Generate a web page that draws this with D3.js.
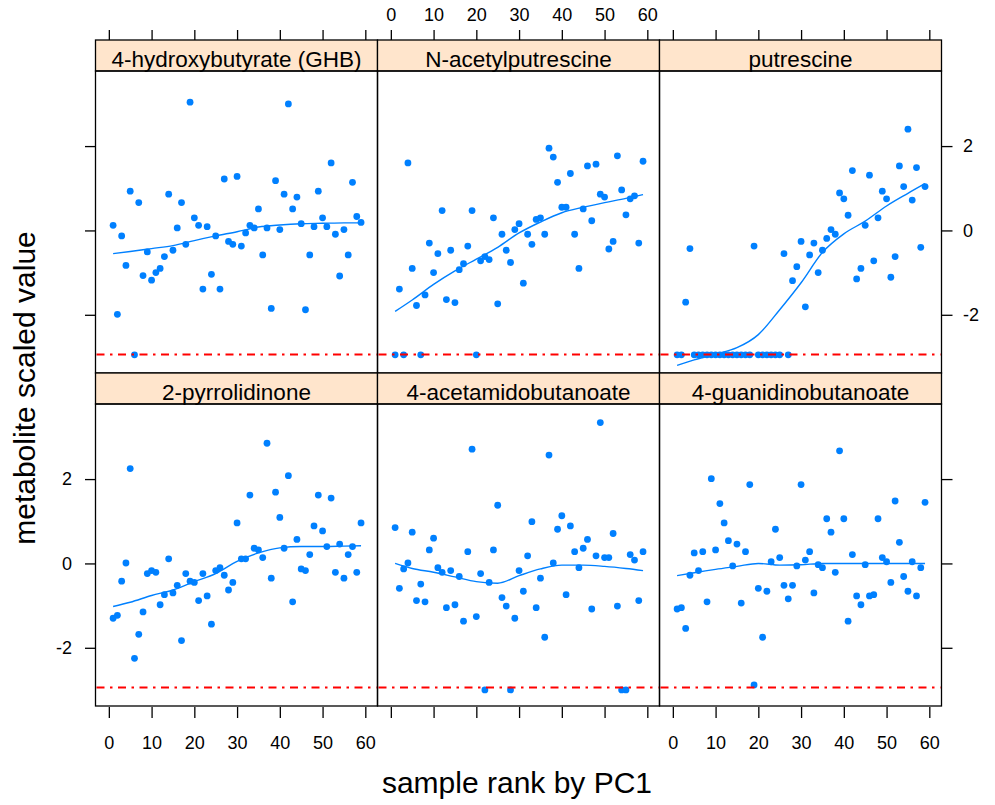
<!DOCTYPE html>
<html>
<head>
<meta charset="utf-8">
<script src="https://cdn.jsdelivr.net/npm/d3@7"></script>
<style>
  body { margin: 0; background: #fff; }
</style>
</head>
<body>
<svg id="chart"></svg>
<script>
// sample ranks (x) shared by every panel
const ranks = [1, 2, 3, 4, 5, 6, 7, 8, 9, 10, 11, 12, 13, 14, 15, 16, 17, 18, 19, 20,
  21, 22, 23, 24, 25, 26, 27, 28, 29, 30, 31, 32, 33, 34, 35, 36, 37, 38, 39, 40,
  41, 42, 43, 44, 45, 46, 47, 48, 49, 50, 51, 52, 53, 54, 55, 56, 57, 58, 59];

const panelNames = ["4-hydroxybutyrate (GHB)", "N-acetylputrescine", "putrescine",
  "2-pyrrolidinone", "4-acetamidobutanoate", "4-guanidinobutanoate"];

// scaled values, one per rank
const ghb = [0.12, -1.99, -0.13, -0.83, 0.93, -2.95, 0.66, -1.07, -0.51, -1.18,
  -1.00, -0.90, -0.62, 0.86, -0.47, 0.06, 0.66, -0.33, 3.04, 0.30,
  0.12, -1.39, 0.09, -1.04, -0.13, -1.39, 1.22, -0.26, -0.33, 1.28,
  -0.37, -0.06, 0.12, 0.06, 0.51, -0.58, 0.06, -1.85, 1.18, 0.02,
  0.86, 3.00, 0.51, 0.79, 0.16, -1.88, -0.58, 0.09, 0.93, 0.30,
  0.09, 1.60, -0.09, -1.08, 0.02, -0.58, 1.14, 0.33, 0.19];
const acetylputrescine = [-2.95, -1.39, -2.95, 1.60, -0.90, -1.78, -2.95, -1.53, -0.30, -1.00,
  -0.55, 0.47, -1.64, -0.47, -1.71, -0.93, -0.79, -0.37, 0.47, -2.95,
  -0.72, -0.62, -0.69, 0.30, -1.74, -0.09, -0.47, -0.76, 0.02, 0.16,
  -1.25, -0.09, -0.33, 0.26, 0.30, -0.09, 1.95, 1.74, 1.14, 0.55,
  0.55, 1.35, -0.09, -0.90, 0.51, 1.53, 0.23, 1.57, 0.86, 0.79,
  -0.44, -0.26, 1.77, 0.96, 0.37, 0.75, 0.82, -0.30, 1.64];
const putrescine = [-2.95, -2.95, -1.70, -0.43, -2.95, -2.95, -2.95, -2.95, -2.95, -2.95,
  -2.95, -2.95, -2.95, -2.95, -2.95, -2.95, -2.95, -2.95, -0.37, -2.95,
  -2.95, -2.95, -2.95, -2.95, -2.95, -0.55, -2.95, -1.19, -0.86, -0.26,
  -1.81, -0.58, -0.30, -1.00, -0.47, -0.19, 0.02, -0.09, 0.89, 0.75,
  0.36, 1.42, -1.15, -0.90, 0.12, 1.31, -0.72, 0.30, 0.93, 0.75,
  -1.11, -0.62, 1.53, 1.04, 2.40, 0.72, 1.49, -0.40, 1.04];
const pyrrolidinone = [-1.30, -1.23, -0.42, 0.01, 2.25, -2.25, -1.68, -1.15, -0.24, -0.17,
  -0.21, -0.98, -0.74, 0.11, -0.70, -0.52, -1.83, -0.24, -0.42, -0.45,
  -0.88, -0.24, -0.77, -1.44, -0.17, -0.10, -0.28, -0.63, -0.45, 0.96,
  0.11, 0.11, 1.62, 0.36, 0.32, 0.14, 2.85, -0.35, 1.69, 1.09,
  0.36, 2.08, -0.91, 0.57, -0.13, -0.17, 0.21, 0.89, 1.62, 0.77,
  0.40, 1.55, -0.21, 0.46, -0.35, 0.21, 0.40, -0.21, 0.96];
const acetamidobutanoate = [0.85, -0.59, -0.13, 0.01, 0.74, -0.88, -0.49, -0.91, 0.32, 0.60,
  -0.10, -0.21, -1.05, -0.17, -0.98, -0.31, -1.37, 0.28, 2.71, -1.26,
  -0.24, -3.00, -0.45, 0.32, 1.38, -0.81, -1.01, -3.00, -1.30, -0.17,
  -0.66, 0.18, 0.99, -1.05, -0.35, -1.75, 2.57, 0.01, 0.81, 1.13,
  -0.74, 0.89, 0.28, -0.10, 0.36, 0.57, -1.08, 0.18, 3.34, 0.14,
  0.14, 0.71, -1.01, -3.00, -3.00, 0.21, 0.08, -0.88, 0.28];
const guanidinobutanoate = [-1.08, -1.05, -1.54, -0.28, 0.25, -0.17, 0.28, -0.91, 2.01, 0.32,
  1.42, 0.96, 0.54, -0.06, 0.46, -0.94, 0.28, 1.87, -2.88, -0.59,
  -1.75, -0.66, 0.04, 0.81, 0.14, -0.52, -0.84, -0.52, -0.06, 1.87,
  0.08, 0.28, -0.70, -0.03, -0.10, 1.06, 0.74, -0.21, 2.67, 1.06,
  -1.37, 0.21, -0.77, -0.98, -0.03, -0.77, -0.74, 1.06, 0.14, 0.04,
  -0.45, 1.48, 0.50, -0.31, -0.66, 0.04, -0.77, -0.10, 1.45];

// loess smoother
const smoothX = [1, 5, 10, 15, 20, 25, 30, 35, 40, 45, 50, 55, 59];
const ghbSmooth = [-0.55, -0.50, -0.43, -0.36, -0.24, -0.13, -0.03, 0.08, 0.13, 0.16, 0.17, 0.18, 0.18];
const acetylSmooth = [-1.92, -1.65, -1.28, -0.96, -0.68, -0.40, -0.06, 0.20, 0.42, 0.55, 0.66, 0.76, 0.85];
const putrescineSmooth = [-3.20, -3.07, -2.93, -2.78, -2.47, -1.88, -1.24, -0.52, -0.08, 0.22, 0.58, 0.88, 1.11];
const pyrrolidinoneSmooth = [-1.02, -0.92, -0.76, -0.63, -0.43, -0.24, 0.05, 0.25, 0.37, 0.40, 0.40, 0.41, 0.42];
const acetamidoSmooth = [0.00, -0.12, -0.21, -0.32, -0.43, -0.47, -0.29, -0.13, -0.04, -0.04, -0.07, -0.12, -0.17];
const guanidinoSmooth = [-0.29, -0.22, -0.14, -0.07, 0.00, -0.04, -0.03, 0.00, 0.00, 0.00, 0.00, 0.00, 0.00];

const xTicks = [0, 10, 20, 30, 40, 50, 60];
const yTicks = [-2, 0, 2];
const detectionLimit = -2.94;

var seriesValues = [ghb, acetylputrescine, putrescine, pyrrolidinone, acetamidobutanoate, guanidinobutanoate];
var smoothValues = [ghbSmooth, acetylSmooth, putrescineSmooth, pyrrolidinoneSmooth, acetamidoSmooth, guanidinoSmooth];

var width = 995, height = 805;
var colLeft = [95.5, 377.5, 659.5], panelW = 282;
var rowTop = [71, 404], panelH = 302, stripH = 31;
var fontFam = '"Liberation Sans", Arial, Helvetica, sans-serif';
var blue = "#0080ff";

var x = d3.scaleLinear().domain([-3.12, 62.85]).range([0, panelW]);
var y = d3.scaleLinear().domain([-3.38, 3.78]).range([panelH, 0]);

var svg = d3.select("#chart").attr("width", width).attr("height", height);
svg.append("rect").attr("width", width).attr("height", height).attr("fill", "white");

var smoothLine = d3.line()
  .x((d, i) => x(smoothX[i]))
  .y(d => y(d))
  .curve(d3.curveMonotoneX);

// R prints a plain hyphen for negatives
var plain = d => String(d);
var blank = () => "";

function styleAxis(g) {
  g.select(".domain").remove();
  g.attr("font-family", fontFam).attr("font-size", 18);
  g.selectAll(".tick line").attr("stroke", "black").attr("stroke-width", 1.3);
  g.selectAll(".tick text").attr("fill", "black");
}

panelNames.forEach(function (name, p) {
  var row = p < 3 ? 0 : 1, col = p % 3;
  var g = svg.append("g").attr("transform", `translate(${colLeft[col]},${rowTop[row]})`);

  // strip
  g.append("rect")
    .attr("x", 0).attr("y", -stripH)
    .attr("width", panelW).attr("height", stripH)
    .attr("fill", "#ffe5cc")
    .attr("stroke", "black").attr("stroke-width", 1.3);
  g.append("text")
    .attr("x", panelW / 2).attr("y", -stripH + 26.5)
    .attr("text-anchor", "middle")
    .attr("font-family", fontFam).attr("font-size", 22.5)
    .attr("fill", "black")
    .text(name);

  // points
  g.append("g").selectAll("circle")
    .data(seriesValues[p])
    .join("circle")
    .attr("cx", (d, i) => x(ranks[i]))
    .attr("cy", d => y(d))
    .attr("r", 3.4)
    .attr("fill", blue);

  // smoother
  g.append("path")
    .datum(smoothValues[p])
    .attr("d", smoothLine)
    .attr("fill", "none")
    .attr("stroke", blue)
    .attr("stroke-width", 1.4);

  // detection limit
  g.append("line")
    .attr("x1", 1).attr("x2", panelW - 1)
    .attr("y1", y(detectionLimit)).attr("y2", y(detectionLimit))
    .attr("stroke", "red").attr("stroke-width", 1.9)
    .attr("stroke-dasharray", "8,5.5,2.5,5.5");

  // border
  g.append("rect")
    .attr("width", panelW).attr("height", panelH)
    .attr("fill", "none")
    .attr("stroke", "black").attr("stroke-width", 1.3);

  // axes, lattice style: alternating labels, ticks on all outer sides
  if (row === 0) {
    g.append("g")
      .attr("transform", `translate(0,${-stripH})`)
      .call(d3.axisTop(x).tickValues(xTicks).tickSize(10).tickPadding(9)
        .tickFormat(col === 1 ? plain : blank))
      .call(styleAxis);
  } else {
    g.append("g")
      .attr("transform", `translate(0,${panelH + 1})`)
      .call(d3.axisBottom(x).tickValues(xTicks).tickSize(11).tickPadding(18)
        .tickFormat(col !== 1 ? plain : blank))
      .call(styleAxis);
  }
  if (col === 0) {
    g.append("g")
      .call(d3.axisLeft(y).tickValues(yTicks).tickSize(10.5).tickPadding(13)
        .tickFormat(row === 1 ? plain : blank))
      .call(styleAxis);
  }
  if (col === 2) {
    g.append("g")
      .attr("transform", `translate(${panelW},0)`)
      .call(d3.axisRight(y).tickValues(yTicks).tickSize(11).tickPadding(10.5)
        .tickFormat(row === 0 ? plain : blank))
      .call(styleAxis);
  }
});

// axis titles
svg.append("text")
  .attr("x", 517).attr("y", 793)
  .attr("text-anchor", "middle")
  .attr("font-family", fontFam).attr("font-size", 30)
  .text("sample rank by PC1");

svg.append("text")
  .attr("transform", "translate(35,388) rotate(-90)")
  .attr("text-anchor", "middle")
  .attr("font-family", fontFam).attr("font-size", 30)
  .text("metabolite scaled value");
</script>
</body>
</html>
